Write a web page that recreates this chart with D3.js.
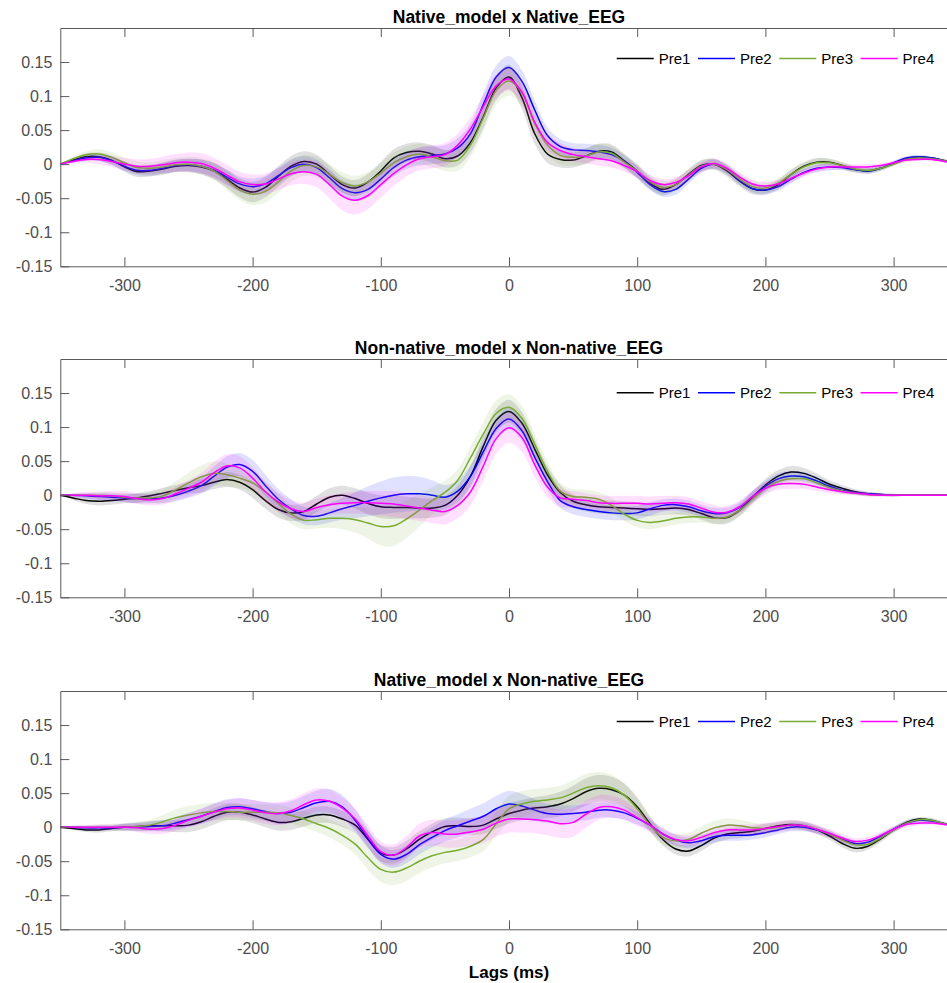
<!DOCTYPE html>
<html>
<head>
<meta charset="utf-8">
<title>Lags (ms)</title>
<script src="https://cdn.jsdelivr.net/npm/d3@7"></script>
<style>
  body { margin: 0; background: #fff; }
  svg { font-family: "Liberation Sans", Arial, Helvetica, sans-serif; }
  .axis path, .axis line { stroke: #5a5a5a; }
  .axis text { fill: #4d4d4d; font-size: 16px; }
</style>
</head>
<body>
<script>

// ---- data ----
var lags = [
  -350,-340,-330,-320,-310,-300,-290,-280,-270,-260,
  -250,-240,-230,-220,-210,-200,-190,-180,-170,-160,
  -150,-140,-130,-120,-110,-100,-90,-80,-70,-60,
  -50,-40,-30,-20,-10,0,10,20,30,40,
  50,60,70,80,90,100,110,120,130,140,
  150,160,170,180,190,200,210,220,230,240,
  250,260,270,280,290,300,310,320,330,340,
  350];

var seriesNames = ["Pre1", "Pre2", "Pre3", "Pre4"];
var seriesColors = ["#000000", "#0000ff", "#77ac30", "#ff00ff"];
var panelTitles = ["Native_model x Native_EEG", "Non-native_model x Non-native_EEG", "Native_model x Non-native_EEG"];
var xTicks = [-300, -200, -100, 0, 100, 200, 300];
var xTickLabels = ["-300", "-200", "-100", "0", "100", "200", "300"];
var yTicks = [-0.15, -0.1, -0.05, 0, 0.05, 0.1, 0.15];
var yTickLabels = ["-0.15", "-0.1", "-0.05", "0", "0.05", "0.1", "0.15"];

// panel 1: Native_model x Native_EEG
var nat_pre1 = [
  0, 0.006, 0.011, 0.011, 0.006, -0.004, -0.011, -0.01, -0.007, -0.003,
  -0.002, -0.004, -0.01, -0.022, -0.035, -0.041, -0.034, -0.018, -0.003, 0.004,
  0.0, -0.015, -0.03, -0.035, -0.026, -0.01, 0.009, 0.017, 0.019, 0.015,
  0.008, 0.012, 0.032, 0.07, 0.112, 0.128, 0.098, 0.045, 0.015, 0.007,
  0.006, 0.012, 0.019, 0.018, 0.005, -0.01, -0.028, -0.037, -0.03, -0.015,
  -0.002, 0.0, -0.01, -0.025, -0.036, -0.038, -0.03, -0.015, -0.003, 0.003,
  0.003, -0.002, -0.008, -0.01, -0.006, 0.001, 0.008, 0.01, 0.009, 0.005,
  0.002];
var nat_pre2 = [
  0, 0.005, 0.009, 0.01, 0.005, -0.003, -0.009, -0.009, -0.006, -0.002,
  -0.001, -0.003, -0.009, -0.019, -0.029, -0.033, -0.029, -0.017, -0.005, 0.0,
  -0.005, -0.02, -0.036, -0.042, -0.037, -0.022, -0.005, 0.006, 0.011, 0.013,
  0.015, 0.024, 0.045, 0.088, 0.128, 0.142, 0.122, 0.08, 0.042, 0.026,
  0.021, 0.02, 0.018, 0.014, 0.004, -0.012, -0.03, -0.04, -0.037, -0.022,
  -0.006, 0.0, -0.008, -0.024, -0.036, -0.038, -0.033, -0.022, -0.012, -0.006,
  -0.004, -0.005, -0.008, -0.01, -0.006, 0.002, 0.009, 0.011, 0.009, 0.005,
  0.002];
var nat_pre3 = [
  0, 0.008, 0.014, 0.015, 0.01, 0.002, -0.005, -0.006, -0.004, -0.001,
  0.0, -0.003, -0.01, -0.024, -0.038, -0.044, -0.04, -0.026, -0.01, -0.002,
  -0.004, -0.015, -0.027, -0.032, -0.026, -0.013, 0.002, 0.011, 0.015, 0.011,
  0.005, 0.006, 0.028, 0.068, 0.108, 0.122, 0.105, 0.06, 0.028, 0.013,
  0.01, 0.012, 0.018, 0.016, 0.003, -0.01, -0.026, -0.034, -0.03, -0.016,
  -0.003, 0.0, -0.008, -0.022, -0.033, -0.035, -0.028, -0.015, -0.004, 0.002,
  0.002, -0.002, -0.007, -0.009, -0.006, 0.0, 0.007, 0.009, 0.008, 0.005,
  0.002];
var nat_pre4 = [
  0, 0.004, 0.007, 0.007, 0.004, 0.0, -0.003, -0.003, -0.001, 0.002,
  0.003, 0.001, -0.006, -0.016, -0.026, -0.03, -0.029, -0.022, -0.014, -0.011,
  -0.015, -0.03, -0.047, -0.053, -0.046, -0.03, -0.014, -0.001, 0.008, 0.011,
  0.014, 0.028, 0.052, 0.085, 0.115, 0.125, 0.106, 0.062, 0.032, 0.02,
  0.014, 0.011, 0.008, 0.005, -0.002, -0.011, -0.024, -0.03, -0.027, -0.017,
  -0.004, 0.001, -0.006, -0.019, -0.029, -0.032, -0.029, -0.021, -0.013, -0.007,
  -0.004, -0.004, -0.004, -0.004, -0.002, 0.002, 0.006, 0.007, 0.007, 0.004,
  0.002];
var nat_sem1 = [
  0, 0.003, 0.005, 0.006, 0.007, 0.007, 0.008, 0.008, 0.009, 0.009,
  0.01, 0.011, 0.012, 0.013, 0.014, 0.015, 0.015, 0.015, 0.015, 0.015,
  0.014, 0.013, 0.012, 0.012, 0.012, 0.013, 0.013, 0.013, 0.013, 0.013,
  0.013, 0.014, 0.015, 0.017, 0.018, 0.018, 0.017, 0.015, 0.013, 0.012,
  0.011, 0.011, 0.011, 0.011, 0.01, 0.01, 0.009, 0.009, 0.008, 0.008,
  0.008, 0.008, 0.008, 0.008, 0.008, 0.007, 0.007, 0.007, 0.006, 0.006,
  0.005, 0.005, 0.004, 0.004, 0.004, 0.003, 0.003, 0.003, 0.002, 0.002,
  0.002];
var nat_sem2 = [
  0, 0.003, 0.004, 0.005, 0.006, 0.007, 0.007, 0.008, 0.008, 0.009,
  0.009, 0.01, 0.01, 0.011, 0.011, 0.012, 0.012, 0.012, 0.012, 0.012,
  0.012, 0.012, 0.012, 0.012, 0.012, 0.012, 0.013, 0.013, 0.013, 0.013,
  0.013, 0.014, 0.015, 0.016, 0.017, 0.017, 0.016, 0.014, 0.012, 0.011,
  0.01, 0.01, 0.01, 0.01, 0.009, 0.009, 0.008, 0.008, 0.008, 0.007,
  0.007, 0.007, 0.007, 0.007, 0.006, 0.006, 0.006, 0.006, 0.005, 0.005,
  0.005, 0.004, 0.004, 0.004, 0.003, 0.003, 0.003, 0.002, 0.002, 0.002,
  0.002];
var nat_sem3 = [
  0, 0.003, 0.005, 0.007, 0.008, 0.008, 0.009, 0.009, 0.01, 0.01,
  0.011, 0.012, 0.013, 0.014, 0.015, 0.016, 0.016, 0.016, 0.016, 0.015,
  0.015, 0.015, 0.015, 0.015, 0.015, 0.015, 0.015, 0.015, 0.015, 0.015,
  0.015, 0.016, 0.018, 0.02, 0.021, 0.021, 0.019, 0.016, 0.014, 0.013,
  0.012, 0.012, 0.012, 0.011, 0.011, 0.01, 0.01, 0.009, 0.009, 0.009,
  0.008, 0.008, 0.008, 0.008, 0.008, 0.007, 0.007, 0.007, 0.006, 0.006,
  0.006, 0.005, 0.005, 0.004, 0.004, 0.003, 0.003, 0.003, 0.002, 0.002,
  0.002];
var nat_sem4 = [
  0, 0.003, 0.005, 0.007, 0.008, 0.009, 0.01, 0.011, 0.012, 0.013,
  0.014, 0.015, 0.015, 0.015, 0.015, 0.015, 0.015, 0.016, 0.017, 0.018,
  0.019, 0.02, 0.021, 0.021, 0.02, 0.019, 0.018, 0.017, 0.017, 0.017,
  0.017, 0.017, 0.017, 0.017, 0.017, 0.017, 0.016, 0.014, 0.012, 0.011,
  0.01, 0.01, 0.01, 0.01, 0.009, 0.009, 0.008, 0.008, 0.008, 0.007,
  0.007, 0.007, 0.007, 0.007, 0.006, 0.006, 0.006, 0.006, 0.005, 0.005,
  0.005, 0.004, 0.004, 0.004, 0.003, 0.003, 0.003, 0.002, 0.002, 0.002,
  0.002];

// panel 2: Non-native_model x Non-native_EEG
var non_pre1 = [
  0, -0.004, -0.008, -0.009, -0.008, -0.006, -0.004, -0.001, 0.003, 0.007,
  0.011, 0.014, 0.019, 0.023, 0.019, 0.008, -0.008, -0.021, -0.026, -0.024,
  -0.013, -0.003, 0.0, -0.005, -0.012, -0.017, -0.018, -0.018, -0.019, -0.019,
  -0.015, 0.0, 0.028, 0.072, 0.11, 0.123, 0.106, 0.068, 0.03, 0.004,
  -0.009, -0.014, -0.017, -0.018, -0.019, -0.02, -0.021, -0.02, -0.019, -0.021,
  -0.027, -0.033, -0.033, -0.022, -0.003, 0.015, 0.028, 0.034, 0.032, 0.025,
  0.016, 0.01, 0.005, 0.002, 0.001, 0.0, 0.0, 0.0, 0.0, 0.0,
  0.0];
var non_pre2 = [
  0, 0.0, -0.001, -0.002, -0.003, -0.004, -0.005, -0.005, -0.004, 0.0,
  0.006, 0.014, 0.028, 0.041, 0.045, 0.035, 0.014, -0.006, -0.02, -0.03,
  -0.031, -0.026, -0.02, -0.015, -0.009, -0.004, 0.0, 0.002, 0.002, 0.0,
  -0.003, 0.006, 0.028, 0.064, 0.098, 0.112, 0.095, 0.056, 0.02, -0.008,
  -0.017, -0.021, -0.024, -0.026, -0.027, -0.026, -0.02, -0.015, -0.014, -0.017,
  -0.023, -0.027, -0.026, -0.018, -0.002, 0.013, 0.024, 0.028, 0.027, 0.021,
  0.013, 0.007, 0.004, 0.002, 0.001, 0.0, 0.0, 0.0, 0.0, 0.0,
  0.0];
var non_pre3 = [
  0, 0.0, 0.0, 0.0, -0.001, -0.003, -0.004, -0.004, -0.001, 0.008,
  0.018, 0.027, 0.032, 0.03, 0.025, 0.018, 0.005, -0.012, -0.028, -0.037,
  -0.036, -0.034, -0.034, -0.036, -0.041, -0.046, -0.045, -0.035, -0.022, -0.008,
  0.004, 0.022, 0.055, 0.09, 0.12, 0.129, 0.113, 0.075, 0.035, 0.006,
  -0.002, -0.003, -0.006, -0.015, -0.028, -0.037, -0.04, -0.038, -0.034, -0.032,
  -0.032, -0.034, -0.032, -0.022, -0.006, 0.01, 0.02, 0.024, 0.024, 0.018,
  0.011, 0.006, 0.003, 0.001, 0.0, 0.0, 0.0, 0.0, 0.0, 0.0,
  0.0];
var non_pre4 = [
  0, 0.0, 0.0, -0.001, -0.001, -0.002, -0.005, -0.007, -0.005, 0.002,
  0.01, 0.019, 0.033, 0.043, 0.04, 0.025, 0.005, -0.01, -0.02, -0.024,
  -0.018, -0.014, -0.012, -0.011, -0.011, -0.012, -0.013, -0.016, -0.019, -0.022,
  -0.024, -0.015, 0.005, 0.043, 0.083, 0.099, 0.085, 0.045, 0.012, -0.004,
  -0.006, -0.008, -0.011, -0.012, -0.012, -0.012, -0.013, -0.012, -0.011, -0.013,
  -0.019, -0.025, -0.025, -0.017, -0.002, 0.01, 0.016, 0.017, 0.016, 0.012,
  0.008, 0.005, 0.003, 0.001, 0.0, 0.0, 0.0, 0.0, 0.0, 0.0,
  0.0];
var non_sem1 = [
  0, 0.003, 0.005, 0.006, 0.006, 0.006, 0.007, 0.007, 0.008, 0.008,
  0.009, 0.01, 0.01, 0.011, 0.011, 0.012, 0.012, 0.012, 0.012, 0.012,
  0.012, 0.013, 0.014, 0.015, 0.016, 0.017, 0.017, 0.016, 0.015, 0.014,
  0.014, 0.014, 0.015, 0.016, 0.017, 0.017, 0.016, 0.014, 0.012, 0.011,
  0.01, 0.01, 0.01, 0.01, 0.01, 0.01, 0.01, 0.009, 0.009, 0.009,
  0.009, 0.009, 0.009, 0.009, 0.009, 0.009, 0.009, 0.009, 0.008, 0.007,
  0.006, 0.005, 0.004, 0.003, 0.002, 0.002, 0.001, 0.001, 0.001, 0.001,
  0.001];
var non_sem2 = [
  0, 0.002, 0.004, 0.005, 0.006, 0.006, 0.007, 0.007, 0.008, 0.009,
  0.01, 0.012, 0.014, 0.016, 0.017, 0.017, 0.016, 0.015, 0.014, 0.013,
  0.013, 0.014, 0.016, 0.019, 0.022, 0.024, 0.026, 0.026, 0.025, 0.022,
  0.018, 0.016, 0.016, 0.016, 0.016, 0.016, 0.015, 0.014, 0.012, 0.011,
  0.011, 0.011, 0.011, 0.011, 0.01, 0.01, 0.01, 0.009, 0.009, 0.009,
  0.009, 0.008, 0.008, 0.008, 0.008, 0.008, 0.008, 0.007, 0.007, 0.006,
  0.005, 0.004, 0.003, 0.003, 0.002, 0.002, 0.001, 0.001, 0.001, 0.001,
  0.001];
var non_sem3 = [
  0, 0.002, 0.003, 0.004, 0.005, 0.006, 0.007, 0.008, 0.01, 0.012,
  0.015, 0.017, 0.018, 0.017, 0.015, 0.014, 0.014, 0.014, 0.014, 0.013,
  0.013, 0.014, 0.016, 0.019, 0.023, 0.028, 0.03, 0.028, 0.024, 0.02,
  0.017, 0.016, 0.017, 0.018, 0.019, 0.019, 0.018, 0.016, 0.014, 0.012,
  0.011, 0.011, 0.011, 0.011, 0.01, 0.01, 0.01, 0.009, 0.009, 0.009,
  0.008, 0.008, 0.008, 0.008, 0.008, 0.008, 0.008, 0.007, 0.007, 0.006,
  0.005, 0.004, 0.003, 0.003, 0.002, 0.002, 0.001, 0.001, 0.001, 0.001,
  0.001];
var non_sem4 = [
  0, 0.003, 0.005, 0.006, 0.007, 0.008, 0.008, 0.008, 0.009, 0.01,
  0.012, 0.014, 0.016, 0.017, 0.017, 0.016, 0.015, 0.014, 0.013, 0.013,
  0.013, 0.014, 0.015, 0.016, 0.017, 0.018, 0.019, 0.019, 0.019, 0.019,
  0.019, 0.019, 0.02, 0.021, 0.022, 0.022, 0.021, 0.018, 0.015, 0.013,
  0.012, 0.011, 0.011, 0.011, 0.011, 0.011, 0.011, 0.011, 0.01, 0.01,
  0.01, 0.01, 0.009, 0.009, 0.009, 0.009, 0.008, 0.008, 0.007, 0.006,
  0.005, 0.004, 0.003, 0.003, 0.002, 0.002, 0.001, 0.001, 0.001, 0.001,
  0.001];

// panel 3: Native_model x Non-native_EEG
var cross_pre1 = [
  0, -0.002, -0.004, -0.004, -0.002, 0.0, 0.001, 0.002, 0.002, 0.002,
  0.003, 0.008, 0.016, 0.022, 0.022, 0.018, 0.012, 0.007, 0.008, 0.013,
  0.018, 0.018, 0.012, 0.003, -0.018, -0.038, -0.041, -0.032, -0.018, -0.007,
  0.001, 0.002, 0.001, 0.003, 0.012, 0.02, 0.025, 0.028, 0.03, 0.034,
  0.042, 0.052, 0.057, 0.055, 0.047, 0.03, 0.005, -0.018, -0.032, -0.035,
  -0.027, -0.016, -0.01, -0.008, -0.006, -0.002, 0.002, 0.004, 0.002, -0.004,
  -0.013, -0.024, -0.031, -0.028, -0.017, -0.004, 0.007, 0.012, 0.01, 0.005,
  0.002];
var cross_pre2 = [
  0, 0.0, -0.001, -0.001, -0.001, 0.0, 0.0, 0.001, 0.002, 0.006,
  0.011, 0.016, 0.023, 0.029, 0.03, 0.027, 0.023, 0.02, 0.022, 0.029,
  0.036, 0.038, 0.03, 0.01, -0.017, -0.04, -0.047, -0.04, -0.026, -0.015,
  -0.005, 0.002, 0.009, 0.016, 0.027, 0.034, 0.031, 0.025, 0.02, 0.019,
  0.02, 0.022, 0.025, 0.025, 0.021, 0.013, 0.003, -0.01, -0.019, -0.023,
  -0.02, -0.014, -0.012, -0.012, -0.011, -0.008, -0.004, 0.0, 0.0, -0.004,
  -0.01, -0.018, -0.024, -0.022, -0.013, -0.003, 0.006, 0.01, 0.009, 0.005,
  0.002];
var cross_pre3 = [
  0, 0.0, 0.0, 0.0, 0.0, 0.0, 0.001, 0.003, 0.008, 0.014,
  0.018, 0.021, 0.023, 0.023, 0.022, 0.022, 0.022, 0.021, 0.017, 0.012,
  0.005, -0.002, -0.012, -0.025, -0.045, -0.062, -0.066, -0.06, -0.05, -0.042,
  -0.037, -0.034, -0.028, -0.018, 0.005, 0.027, 0.034, 0.038, 0.04, 0.043,
  0.05, 0.058, 0.061, 0.058, 0.047, 0.027, 0.003, -0.015, -0.02, -0.018,
  -0.009, -0.001, 0.003, 0.002, -0.001, -0.002, 0.0, 0.003, 0.002, -0.003,
  -0.01, -0.019, -0.026, -0.025, -0.016, -0.004, 0.006, 0.011, 0.01, 0.005,
  0.002];
var cross_pre4 = [
  0, 0.0, 0.0, 0.0, 0.0, 0.0, -0.001, -0.003, -0.002, 0.003,
  0.01, 0.016, 0.022, 0.027, 0.028, 0.025, 0.021, 0.02, 0.024, 0.033,
  0.04, 0.038, 0.028, 0.012, -0.013, -0.036, -0.041, -0.03, -0.013, -0.008,
  -0.01, -0.01, -0.007, -0.003, 0.006, 0.012, 0.012, 0.011, 0.009, 0.005,
  0.007, 0.019, 0.029, 0.03, 0.025, 0.014, 0.003, -0.01, -0.018, -0.02,
  -0.015, -0.008, -0.004, -0.004, -0.004, -0.002, 0.001, 0.003, 0.002, -0.003,
  -0.009, -0.016, -0.021, -0.019, -0.012, -0.003, 0.004, 0.006, 0.006, 0.004,
  0.002];
var cross_sem1 = [
  0, 0.002, 0.003, 0.004, 0.004, 0.005, 0.006, 0.007, 0.008, 0.009,
  0.01, 0.011, 0.012, 0.012, 0.012, 0.012, 0.012, 0.012, 0.012, 0.012,
  0.012, 0.012, 0.012, 0.012, 0.012, 0.012, 0.012, 0.012, 0.012, 0.012,
  0.012, 0.012, 0.012, 0.013, 0.014, 0.015, 0.015, 0.016, 0.017, 0.018,
  0.019, 0.02, 0.02, 0.019, 0.017, 0.014, 0.011, 0.009, 0.008, 0.008,
  0.008, 0.008, 0.008, 0.008, 0.007, 0.007, 0.006, 0.006, 0.006, 0.006,
  0.006, 0.006, 0.006, 0.005, 0.005, 0.004, 0.004, 0.003, 0.003, 0.002,
  0.002];
var cross_sem2 = [
  0, 0.002, 0.003, 0.004, 0.004, 0.005, 0.006, 0.007, 0.008, 0.009,
  0.01, 0.011, 0.012, 0.012, 0.013, 0.013, 0.014, 0.015, 0.016, 0.017,
  0.018, 0.018, 0.017, 0.016, 0.014, 0.013, 0.013, 0.013, 0.014, 0.015,
  0.016, 0.017, 0.018, 0.019, 0.019, 0.019, 0.018, 0.016, 0.014, 0.013,
  0.012, 0.012, 0.011, 0.011, 0.01, 0.009, 0.008, 0.008, 0.008, 0.008,
  0.008, 0.008, 0.008, 0.008, 0.007, 0.007, 0.006, 0.006, 0.006, 0.005,
  0.005, 0.005, 0.005, 0.004, 0.004, 0.004, 0.003, 0.003, 0.003, 0.002,
  0.002];
var cross_sem3 = [
  0, 0.002, 0.003, 0.004, 0.005, 0.006, 0.007, 0.008, 0.01, 0.012,
  0.013, 0.013, 0.013, 0.013, 0.012, 0.012, 0.012, 0.012, 0.012, 0.012,
  0.012, 0.013, 0.014, 0.015, 0.017, 0.018, 0.019, 0.019, 0.018, 0.017,
  0.016, 0.016, 0.016, 0.017, 0.018, 0.019, 0.019, 0.018, 0.018, 0.018,
  0.019, 0.02, 0.02, 0.019, 0.017, 0.014, 0.011, 0.01, 0.01, 0.01,
  0.01, 0.01, 0.01, 0.009, 0.008, 0.007, 0.006, 0.006, 0.006, 0.006,
  0.006, 0.006, 0.006, 0.005, 0.005, 0.004, 0.004, 0.003, 0.003, 0.002,
  0.002];
var cross_sem4 = [
  0, 0.002, 0.003, 0.004, 0.004, 0.005, 0.006, 0.007, 0.008, 0.009,
  0.01, 0.011, 0.012, 0.013, 0.014, 0.015, 0.016, 0.017, 0.017, 0.017,
  0.017, 0.017, 0.016, 0.015, 0.015, 0.015, 0.016, 0.017, 0.018, 0.019,
  0.02, 0.02, 0.02, 0.02, 0.02, 0.02, 0.02, 0.02, 0.021, 0.021,
  0.021, 0.02, 0.018, 0.016, 0.014, 0.012, 0.01, 0.009, 0.008, 0.008,
  0.008, 0.008, 0.008, 0.008, 0.008, 0.008, 0.008, 0.008, 0.007, 0.007,
  0.006, 0.006, 0.005, 0.005, 0.005, 0.004, 0.004, 0.003, 0.003, 0.002,
  0.002];

var panelMeans = [
  [nat_pre1, nat_pre2, nat_pre3, nat_pre4],
  [non_pre1, non_pre2, non_pre3, non_pre4],
  [cross_pre1, cross_pre2, cross_pre3, cross_pre4]
];
var panelSems = [
  [nat_sem1, nat_sem2, nat_sem3, nat_sem4],
  [non_sem1, non_sem2, non_sem3, non_sem4],
  [cross_sem1, cross_sem2, cross_sem3, cross_sem4]
];

// ---- layout ----
var W = 947, H = 983;
var left = 60.3;
var width = 897.4, height = 238.3;
var panelTops = [28, 359, 691];

var svg = d3.select("body").append("svg")
  .attr("width", W)
  .attr("height", H);

svg.append("defs").append("clipPath")
  .attr("id", "plotclip")
  .append("rect")
  .attr("width", width)
  .attr("height", height);

var x = d3.scaleLinear().domain([-350, 350]).range([0, width]);
var y = d3.scaleLinear().domain([-0.15, 0.2]).range([height, 0]);

panelTitles.forEach(function(title, p) {
  var g = svg.append("g")
    .attr("transform", "translate(" + left + "," + panelTops[p] + ")");

  var plot = g.append("g").attr("clip-path", "url(#plotclip)");

  seriesNames.forEach(function(name, s) {
    var m = panelMeans[p][s], e = panelSems[p][s];
    var pts = lags.map(function(l, i) { return {lag: l, v: m[i], e: e[i]}; });

    var band = d3.area()
      .x(function(d) { return x(d.lag); })
      .y0(function(d) { return y(d.v - d.e); })
      .y1(function(d) { return y(d.v + d.e); })
      .curve(d3.curveCatmullRom.alpha(0.5));

    var line = d3.line()
      .x(function(d) { return x(d.lag); })
      .y(function(d) { return y(d.v); })
      .curve(d3.curveCatmullRom.alpha(0.5));

    plot.append("path")
      .datum(pts)
      .attr("d", band)
      .attr("fill", seriesColors[s])
      .attr("fill-opacity", 0.12)
      .attr("stroke", "none");

    plot.append("path")
      .datum(pts)
      .attr("d", line)
      .attr("fill", "none")
      .attr("stroke", seriesColors[s])
      .attr("stroke-width", 1.5);
  });

  // axes, ticks pointing inward
  g.append("g")
    .attr("class", "axis")
    .attr("transform", "translate(0," + height + ")")
    .call(d3.axisBottom(x).tickValues(xTicks).tickSizeInner(-9).tickSizeOuter(0).tickPadding(13)
      .tickFormat(function(d, i) { return xTickLabels[i]; }))
    .selectAll("text").attr("dy", "0.71em");

  g.append("g")
    .attr("class", "axis")
    .call(d3.axisTop(x).tickValues(xTicks).tickSizeInner(-9).tickSizeOuter(0).tickFormat(""));

  g.append("g")
    .attr("class", "axis")
    .call(d3.axisLeft(y).tickValues(yTicks).tickSizeInner(-9).tickSizeOuter(0).tickPadding(8)
      .tickFormat(function(d, i) { return yTickLabels[i]; }));

  g.selectAll(".axis .domain").attr("stroke", "#5a5a5a");

  // title
  g.append("text")
    .attr("x", x(0))
    .attr("y", -4.7)
    .attr("text-anchor", "middle")
    .style("font-size", "17.5px")
    .style("font-weight", "bold")
    .style("fill", "#000")
    .text(title);

  // legend (no box)
  var legend = g.selectAll(".legend")
    .data(seriesNames)
    .enter().append("g")
    .attr("class", "legend")
    .attr("transform", function(d, i) { return "translate(" + (556.4 + i * 81.3) + "," + (p === 1 ? 33.7 : 30.5) + ")"; });

  legend.append("line")
    .attr("x1", 0)
    .attr("x2", 37)
    .attr("stroke", function(d, i) { return seriesColors[i]; })
    .attr("stroke-width", 1.5);

  legend.append("text")
    .attr("x", 42)
    .attr("dy", "0.35em")
    .style("font-size", "15px")
    .style("fill", "#000")
    .text(function(d) { return d; });
});

svg.append("text")
  .attr("x", left + x(0))
  .attr("y", 978)
  .attr("text-anchor", "middle")
  .style("font-size", "17px")
  .style("font-weight", "bold")
  .text("Lags (ms)");

</script>
</body>
</html>
